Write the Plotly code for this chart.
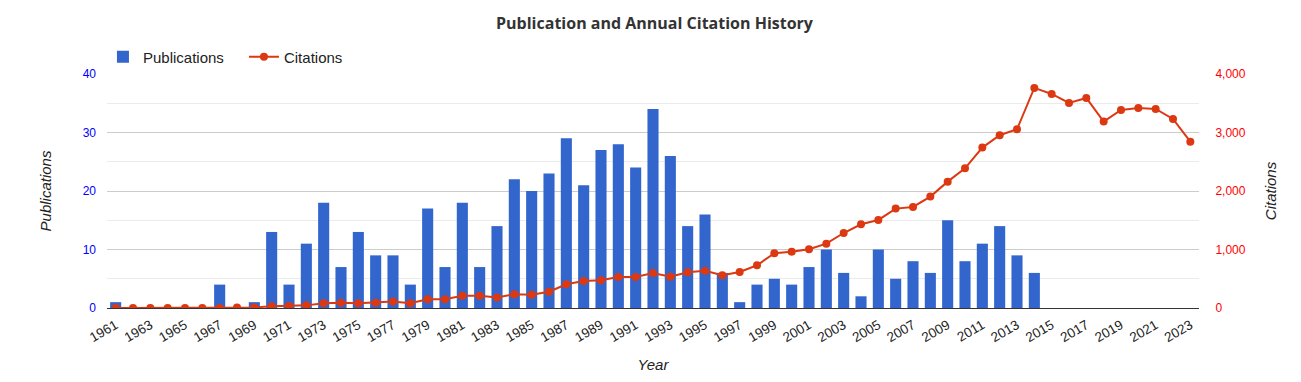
import plotly.graph_objects as go

years = list(range(1961, 2024))
publications = [1, 0, 0, 0, 0, 0, 4, 0, 1, 13, 4, 11, 18, 7, 13, 9, 9, 4, 17, 7,
                18, 7, 14, 22, 20, 23, 29, 21, 27, 28, 24, 34, 26, 14, 16, 6, 1, 4, 5, 4,
                7, 10, 6, 2, 10, 5, 8, 6, 15, 8, 11, 14, 9, 6,
                0, 0, 0, 0, 0, 0, 0, 0, 0]
citations = [0, 0, 0, 0, 0, 0, 0, 10, 10, 30, 35, 45, 80, 90, 80, 90, 110, 80, 150, 150,
             210, 210, 180, 234, 228, 279, 405, 462, 473, 530, 530, 599, 536, 610, 638, 559,
             616, 730, 935, 963, 1003, 1100, 1282, 1431, 1505, 1699, 1727, 1904, 2160, 2388,
             2742, 2953, 3055, 3762, 3659, 3506, 3591, 3186, 3386, 3420, 3403, 3232, 2844]

BLUE = "#3366cc"
RED = "#dc3912"
FONT = "Liberation Sans, Arial, sans-serif"

fig = go.Figure()
fig.add_trace(go.Bar(x=years, y=publications, name="Publications",
                     marker=dict(color=BLUE, line=dict(width=0)), yaxis="y"))
fig.add_trace(go.Scatter(x=years, y=citations, name="Citations", mode="lines+markers",
                         line=dict(color=RED, width=2), marker=dict(color=RED, size=8),
                         yaxis="y2"))

fig.update_layout(
    width=1293, height=374,
    margin=dict(l=99, r=102, t=66, b=74, autoexpand=False),
    paper_bgcolor="white", plot_bgcolor="white",
    font=dict(family=FONT, size=12, color="#222222"),
    title=dict(text="<b>Publication and Annual Citation History</b>",
               font=dict(family="Open Sans, sans-serif", size=16, color="#333333"),
               x=0.5, xanchor="center", y=0.96, yanchor="middle"),
    bargap=0.36,
    showlegend=True,
    legend=dict(orientation="h", x=-0.0037, xanchor="left", y=1.0726, yanchor="middle",
                font=dict(size=15, color="#222222"), itemwidth=30,
                entrywidth=96, entrywidthmode="pixels",
                bgcolor="rgba(0,0,0,0)"),
    xaxis=dict(range=[1960.5, 2023.5], tickmode="linear", tick0=1961, dtick=2,
               tickangle=-30, showgrid=False, zeroline=False, showline=False,
               automargin=False, ticklabelstandoff=6,
               tickfont=dict(size=13.5, color="#222222"), ticks="",
               title=dict(text="<i>Year</i>", font=dict(size=15, color="#222222"),
                          standoff=15)),
    yaxis=dict(range=[0, 40], dtick=10, showgrid=True, gridcolor="#cccccc",
               zeroline=True, zerolinecolor="#333333", zerolinewidth=1,
               minor=dict(dtick=5, showgrid=True, gridcolor="#ebebeb"),
               automargin=False, ticklabelstandoff=10,
               tickfont=dict(size=12, color="#0000ff"), ticks="",
               title=dict(text="<i>Publications</i>", font=dict(size=15, color="#222222"),
                          standoff=27)),
    yaxis2=dict(range=[0, 4000], dtick=1000, overlaying="y", side="right",
                showgrid=False, zeroline=False, tickformat=",",
                automargin=False, ticks="outside", ticklen=5,
                tickcolor="rgba(0,0,0,0)", ticklabelstandoff=8,
                tickfont=dict(size=12, color="#ff0000"),
                title=dict(text="<i>Citations</i>", font=dict(size=15, color="#222222"),
                           standoff=20)),
)

fig.write_html("out.html")
